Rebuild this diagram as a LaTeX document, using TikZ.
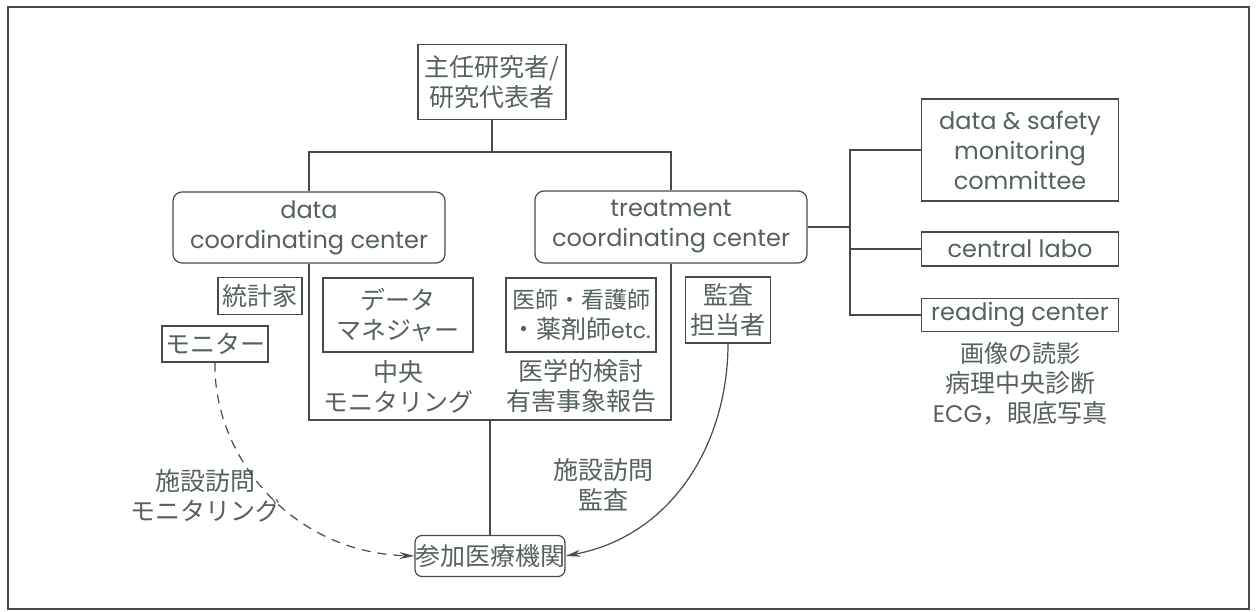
\documentclass[tikz,border=0pt]{standalone}
\usepackage{fontspec}
\setmainfont{Noto Sans CJK JP}
\newfontfamily\lat{Poppins}
\usetikzlibrary{arrows.meta}
\definecolor{txt}{RGB}{85,98,90}
\definecolor{ln}{RGB}{70,76,72}
\newcommand{\jpsz}{\fontsize{25}{30}\selectfont}
\newcommand{\latsz}{\lat\fontsize{24}{30}\selectfont}
\begin{document}
\begin{tikzpicture}[x=1pt,y=-1pt,
  every node/.style={text=txt,font=\jpsz,align=center,inner sep=0pt},
  latin/.style={font=\latsz},
  box/.style={draw=ln,line width=1.2pt},
  rbox/.style={draw=ln,line width=1.2pt,rounded corners=9pt},
  conn/.style={draw=ln,line width=1.2pt},
  arr/.style={conn,-{Stealth[length=15pt,width=7pt]}}]
\useasboundingbox (0,0) rectangle (1257,612);
\draw[ln,line width=1.2pt] (8,7) rectangle (1249,609);
% nodes
\node[box,minimum width=148pt,minimum height=75pt] (pi) at (492,82) {主任研究者/\\研究代表者};
\node[rbox,latin,minimum width=272pt,minimum height=71pt] (dcc) at (309,227.5) {data\\coordinating center};
\node[rbox,latin,minimum width=272pt,minimum height=72pt] (tcc) at (671,227) {treatment\\coordinating center};
\node[box,minimum width=84pt,minimum height=37pt] (stat) at (260,296) {統計家};
\node[box,minimum width=106pt,minimum height=36pt] (mon) at (215,344) {モニター};
\node[box,minimum width=150pt,minimum height=74pt] (dm) at (398,315) {データ\\マネジャー};
\node[box,minimum width=150pt,minimum height=74pt] (doc) at (581,315) {\fontsize{23}{30}\selectfont 医師・看護師\\・薬剤師{\lat\fontsize{22}{30}\selectfont etc.}};
\node[box,minimum width=85pt,minimum height=66pt] (aud) at (728,310) {監査\\担当者};
\node[rbox,rounded corners=7pt,minimum width=149pt,minimum height=41pt] (site) at (490,556) {参加医療機関};
\node[box,latin,minimum width=197pt,minimum height=102pt] (dsmc) at (1020,150) {data \& safety\\monitoring\\committee};
\node[box,latin,minimum width=197pt,minimum height=34pt] (lab) at (1020,249) {central labo};
\node[box,latin,minimum width=197pt,minimum height=33pt] (read) at (1020,315) {reading center};
% text nodes
\node (cm) at (398,387) {\fontsize{25}{28}\selectfont 中央\\モニタリング};
\node (med) at (581,386) {\fontsize{25}{29}\selectfont 医学的検討\\有害事象報告};
\node (rnote) at (1020,384) {\fontsize{24}{32}\selectfont 画像の読影\\病理中央診断\\{\latsz ECG}，眼底写真};
\node (lmon) at (205,496) {施設訪問\\モニタリング};
\node (laud) at (603,485) {施設訪問\\監査};
% coordinates
\coordinate (top) at (490,152);
\coordinate (bar) at (490,420);
\coordinate (rb) at (850,228);
% connectors
\draw[conn] (pi.south) -- (pi.south |- top);
\draw[conn] (dcc.north) -- (dcc.north |- top) -- (tcc.north |- top) -- (tcc.north);
\draw[conn] (dcc.south) -- (dcc.south |- bar) -- (tcc.south |- bar) -- (tcc.south);
\draw[conn] (bar) -- (site.north);
\draw[conn] (tcc.east) -- (tcc.east -| rb);
\draw[conn] (dsmc.west) -- (dsmc.west -| rb) -- (read.west -| rb) -- (read.west);
\draw[conn] (lab.west) -- (lab.west -| rb);
\draw[arr,dashed,dash pattern=on 9pt off 7pt] (mon.south) .. controls (213,455) and (290,552) .. (site.west);
\draw[arr] (aud.south) .. controls (728,440) and (675,535) .. (site.east);
\end{tikzpicture}
\end{document}
